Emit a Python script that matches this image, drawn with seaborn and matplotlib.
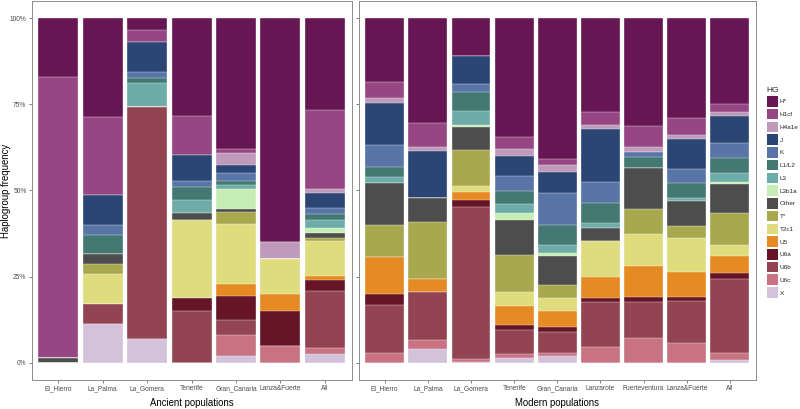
import numpy as np
import pandas as pd
import matplotlib
matplotlib.use("Agg")
import matplotlib.pyplot as plt
import seaborn as sns
from matplotlib.patches import Patch
from matplotlib.ticker import FixedLocator

# ---------------- data ----------------
haplogroups = ["H*", "H1cf", "H4a1e", "J", "K", "L1/L2", "L3", "L3b1a", "Other",
               "T*", "T2c1", "U5", "U6a", "U6b", "U6c", "X"]
hg_colors = ["#661753", "#954683", "#C09ABB", "#2B4675", "#5975A8", "#437873",
             "#6DACA9", "#C7EDB6", "#4D4D4D", "#A8A84F", "#DEDC7C", "#E68A23",
             "#661526", "#924453", "#C87282", "#D4C1DA"]

ancient_pops = ["El_Hierro", "La_Palma", "La_Gomera", "Tenerife", "Gran_Canaria",
                "Lanza&Fuerte", "All"]
modern_pops = ["El_Hierro", "La_Palma", "La_Gomera", "Tenerife", "Gran_Canaria",
               "Lanzarote", "Fuerteventura", "Lanza&Fuerte", "All"]

# frequencies (%) in haplogroup order above
anc_el_hierro    = [17.1, 81.6, 0, 0, 0, 0, 0, 0, 1.3, 0, 0, 0, 0, 0, 0, 0]
anc_la_palma     = [28.6, 22.9, 0, 8.6, 2.9, 5.7, 0, 0, 2.9, 2.9, 8.6, 0, 0, 5.7, 0, 11.4]
anc_la_gomera    = [3.45, 3.45, 0, 8.6, 1.7, 1.7, 6.9, 0, 0, 0, 0, 0, 0, 67.2, 0, 6.9]
anc_tenerife     = [28.3, 11.3, 0, 7.5, 1.9, 3.8, 3.8, 0, 1.9, 0, 22.6, 0, 3.8, 15.1, 0, 0]
anc_gran_canaria = [38.0, 1.0, 3.6, 2.2, 2.4, 1.0, 1.2, 5.8, 1.0, 3.4, 17.4, 3.5, 6.8, 4.6, 5.9, 2.0]
anc_lanza_fuerte = [65, 0, 5, 0, 0, 0, 0, 0, 0, 0, 10, 5, 10, 0, 5, 0]
anc_all          = [26.5, 23.1, 1.2, 4.4, 1.6, 1.9, 2.3, 1.4, 1.3, 1.1, 10.0, 1.3, 3.2, 16.3, 1.8, 2.6]

mod_el_hierro     = [18.5, 4.6, 1.5, 12.3, 6.3, 3.0, 1.5, 0, 12.4, 9.3, 0, 10.7, 3.1, 13.9, 2.9, 0]
mod_la_palma      = [30.3, 7.0, 1.2, 13.8, 0, 0, 0, 0, 6.7, 16.6, 0, 4.0, 0, 13.7, 2.8, 3.9]
mod_la_gomera     = [11.0, 0, 0, 8.0, 2.4, 5.4, 4.1, 0.6, 6.8, 10.4, 1.6, 2.5, 2.1, 43.9, 0.9, 0.3]
mod_tenerife      = [34.6, 3.4, 1.9, 5.8, 4.4, 3.9, 2.4, 2.3, 10.0, 10.9, 3.9, 5.5, 1.6, 6.8, 1.1, 1.5]
mod_gran_canaria  = [41.0, 1.5, 2.1, 6.0, 9.4, 5.9, 2.3, 0.8, 8.5, 3.7, 3.8, 4.5, 1.5, 6.2, 0.8, 2.0]
mod_lanzarote     = [27.3, 3.6, 1.2, 15.4, 6.2, 5.8, 1.3, 0, 3.8, 0, 10.6, 6.0, 1.1, 13.1, 4.6, 0]
mod_fuerteventura = [31.3, 6.0, 1.5, 0, 1.6, 3.0, 0, 0, 11.9, 7.4, 9.1, 9.1, 1.4, 10.4, 7.3, 0]
mod_lanza_fuerte  = [29.1, 4.7, 1.3, 8.7, 4.0, 4.4, 0.8, 0, 7.3, 3.4, 9.9, 7.4, 1.2, 12.0, 5.8, 0]
mod_all           = [24.8, 2.4, 1.3, 7.8, 4.2, 4.3, 2.6, 0.7, 8.5, 9.1, 3.3, 4.9, 1.7, 21.6, 1.9, 0.9]

ancient_values = [anc_el_hierro, anc_la_palma, anc_la_gomera, anc_tenerife,
                  anc_gran_canaria, anc_lanza_fuerte, anc_all]
modern_values = [mod_el_hierro, mod_la_palma, mod_la_gomera, mod_tenerife,
                 mod_gran_canaria, mod_lanzarote, mod_fuerteventura,
                 mod_lanza_fuerte, mod_all]


def long_table(pops, values):
    rows = []
    for pop, vals in zip(pops, values):
        v = np.array(vals, dtype=float)
        v = v / v.sum()
        # cumulative from the bottom (X) up to each haplogroup (H* on top)
        cum = np.cumsum(v[::-1])[::-1]
        for hg, c in zip(haplogroups, cum):
            rows.append({"pop": pop, "HG": hg, "cum": c})
    return pd.DataFrame(rows)


# ---------------- style ----------------
sns.set_style("white")
plt.rcParams["font.family"] = ["Liberation Sans", "DejaVu Sans"]

W, H = 800, 409
fig = plt.figure(figsize=(W / 100, H / 100), dpi=100)

def frac_box(x0, x1, ytop, ybot):
    return [x0 / W, 1 - ybot / H, (x1 - x0) / W, (ybot - ytop) / H]

ax1 = fig.add_axes(frac_box(31.6, 351.6, 1.0, 380.0))
ax2 = fig.add_axes(frac_box(358.8, 755.8, 1.0, 380.0))

tick_color = "#4D4D4D"
border_color = "#8C8C8C"

for ax, pops, values, title in [(ax1, ancient_pops, ancient_values, "Ancient populations"),
                                (ax2, modern_pops, modern_values, "Modern populations")]:
    df = long_table(pops, values)
    for hg, col in zip(haplogroups, hg_colors):
        sub = df[df["HG"] == hg]
        sns.barplot(data=sub, x="pop", y="cum", order=pops, color=col,
                    saturation=1, width=0.9, errorbar=None, ax=ax,
                    edgecolor="#FFFFFF", linewidth=0.25)
    ax.set_xlim(-0.6, len(pops) - 0.4)
    ax.set_ylim(-0.05, 1.05)
    ax.yaxis.set_major_locator(FixedLocator([0, 0.25, 0.5, 0.75, 1.0]))
    ax.set_ylabel("")
    ax.set_xlabel(title, fontsize=6.9, color="black")
    ax.xaxis.set_label_coords(0.5, -(403 - 380) / 379)
    ax.xaxis.label.set_va("center")
    ax.tick_params(axis="both", which="both", length=2.5, width=0.5,
                   color="#4D4D4D", labelcolor=tick_color, labelsize=4.8, pad=1.2,
                   bottom=True, left=True)
    for s in ax.spines.values():
        s.set_visible(True)
        s.set_color(border_color)
        s.set_linewidth(0.7)
    ax.grid(False)
    ax.set_facecolor("white")

ax1.set_yticklabels(["0%", "25%", "50%", "75%", "100%"])
ax2.set_yticklabels([])

fig.text(6.5 / W, 1 - 190.5 / H, "Haplogroup frequency", rotation=90,
         ha="center", va="center", fontsize=6.9, color="black")

handles = [Patch(facecolor=c, edgecolor="none", label=h) for h, c in zip(haplogroups, hg_colors)]
leg = fig.legend(handles=handles, loc="upper left",
                 bbox_to_anchor=(766.5 / W, 1 - 87 / H), frameon=False,
                 title="HG", title_fontsize=6, fontsize=4.6,
                 handlelength=1.75, handleheight=2.2, labelspacing=0.32,
                 handletextpad=0.35, borderpad=0, borderaxespad=0,
                 alignment="left")

fig.savefig("out.png", dpi=100, facecolor="white")
